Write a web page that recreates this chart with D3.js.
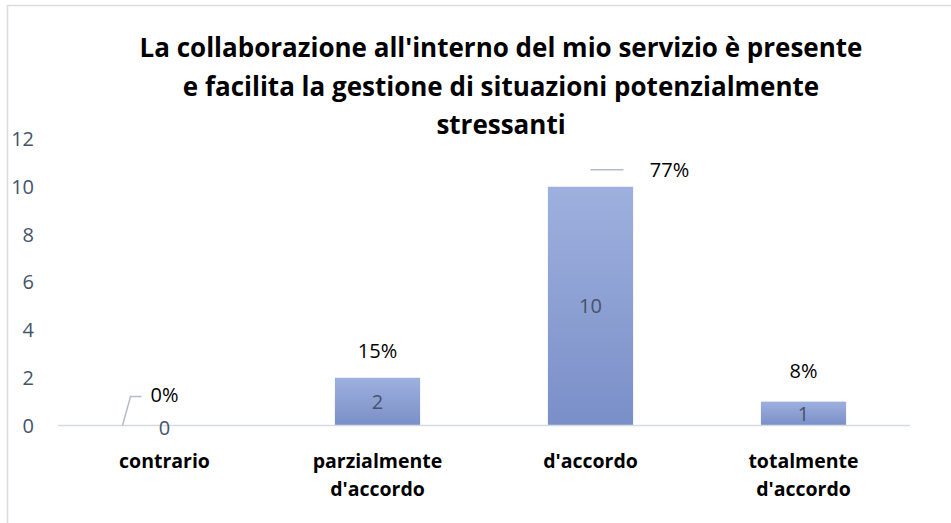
<!DOCTYPE html>
<html>
<head>
<meta charset="utf-8">
<script src="https://cdn.jsdelivr.net/npm/d3@7"></script>
<style>
  body { margin: 0; background: #fff; }
  text { font-family: "Open Sans", "Noto Sans", sans-serif; }
</style>
</head>
<body>
<div id="chart"></div>
<script>
// Chart data
const categories = ["contrario", "parzialmente\nd'accordo", "d'accordo", "totalmente\nd'accordo"];
const counts = [0, 2, 10, 1];
const percents = ["0%", "15%", "77%", "8%"];
const yTicks = [0, 2, 4, 6, 8, 10, 12];
const titleLines = [
    "La collaborazione all'interno del mio servizio è presente",
    "e facilita la gestione di situazioni potenzialmente",
    "stressanti"
];

const width = 951;
const height = 523;
const margin = {top: 139, right: 41, bottom: 97, left: 58};

const svg = d3.select("#chart").append("svg")
    .attr("width", width)
    .attr("height", height);

// outer frame
svg.append("rect")
    .attr("x", 7.5).attr("y", 5.5)
    .attr("width", width).attr("height", height)
    .attr("fill", "none")
    .attr("stroke", "#d9dce3")
    .attr("stroke-width", 1.5);

const defs = svg.append("defs");
const grad = defs.append("linearGradient")
    .attr("id", "barGrad")
    .attr("x1", 0).attr("y1", 0).attr("x2", 0).attr("y2", 1);
grad.append("stop").attr("offset", "0%").attr("stop-color", "#9eb0de");
grad.append("stop").attr("offset", "100%").attr("stop-color", "#7a8fc8");

// Title
svg.append("g")
    .selectAll("text")
    .data(titleLines)
    .enter().append("text")
    .attr("x", 501)
    .attr("y", (d, i) => 57 + i * 38.5)
    .attr("text-anchor", "middle")
    .style("font-size", "26px")
    .style("font-weight", "bold")
    .attr("fill", "#000")
    .text(d => d);

const x = d3.scaleBand()
    .domain(categories)
    .range([margin.left, width - margin.right])
    .paddingInner(0.6)
    .paddingOuter(0.3);

const y = d3.scaleLinear()
    .domain([0, 12])
    .range([height - margin.bottom - 0.5, margin.top]);

// y axis labels
svg.append("g")
    .selectAll("text")
    .data(yTicks)
    .enter().append("text")
    .attr("x", 34)
    .attr("y", d => y(d))
    .attr("dy", "0.35em")
    .attr("text-anchor", "end")
    .style("font-size", "20px")
    .attr("fill", "#44546a")
    .text(d => d);

// bars
svg.append("g")
    .selectAll("rect")
    .data(counts)
    .enter().append("rect")
    .attr("x", (d, i) => x(categories[i]))
    .attr("y", d => y(d))
    .attr("width", x.bandwidth())
    .attr("height", d => y(0) - y(d))
    .attr("fill", "url(#barGrad)");

// baseline
svg.append("line")
    .attr("x1", margin.left).attr("x2", width - margin.right)
    .attr("y1", y(0)).attr("y2", y(0))
    .attr("stroke", "#d6dbe3")
    .attr("stroke-width", 1.5);

// value labels inside bars
svg.append("g")
    .selectAll("text")
    .data(counts)
    .enter().append("text")
    .attr("x", (d, i) => x(categories[i]) + x.bandwidth() / 2)
    .attr("y", d => d === 0 ? y(0) + 2 : (y(d) + y(0)) / 2)
    .attr("dy", "0.35em")
    .attr("text-anchor", "middle")
    .style("font-size", "20px")
    .attr("fill", "#44546a")
    .text(d => d);

// percent labels
const pctPos = [
    {dx: 0, dy: -31},
    {dx: 0, dy: -27},
    {dx: 79, dy: -17},
    {dx: 0, dy: -31}
];
const pg = svg.append("g");
counts.forEach((d, i) => {
    const cx = x(categories[i]) + x.bandwidth() / 2;
    const p = pctPos[i];
    pg.append("text")
        .attr("x", cx + p.dx)
        .attr("y", y(d) + p.dy)
        .attr("dy", "0.35em")
        .attr("text-anchor", "middle")
        .style("font-size", "20px")
        .attr("fill", "#000")
        .text(percents[i]);
});
// leader lines
pg.append("path")
    .attr("d", () => {
        const cx = x(categories[0]) + x.bandwidth() / 2;
        const by = y(0);
        return `M${cx - 42},${by} L${cx - 34},${by - 29} L${cx - 23},${by - 29}`;
    })
    .attr("fill", "none")
    .attr("stroke", "#b4bccb")
    .attr("stroke-width", 1.5);
pg.append("path")
    .attr("d", () => {
        const cx = x(categories[2]) + x.bandwidth() / 2;
        const ty = y(10) - 17;
        return `M${cx},${ty} L${cx + 33},${ty}`;
    })
    .attr("fill", "none")
    .attr("stroke", "#b4bccb")
    .attr("stroke-width", 1.5);

// category labels
const cg = svg.append("g");
categories.forEach(c => {
    const t = cg.append("text")
        .attr("x", x(c) + x.bandwidth() / 2)
        .attr("y", 468)
        .attr("text-anchor", "middle")
        .style("font-size", "19.5px")
        .style("font-weight", "bold")
        .attr("fill", "#000");
    c.split("\n").forEach((line, j) => {
        t.append("tspan")
            .attr("x", x(c) + x.bandwidth() / 2)
            .attr("dy", j === 0 ? 0 : 28)
            .text(line);
    });
});
</script>
</body>
</html>
